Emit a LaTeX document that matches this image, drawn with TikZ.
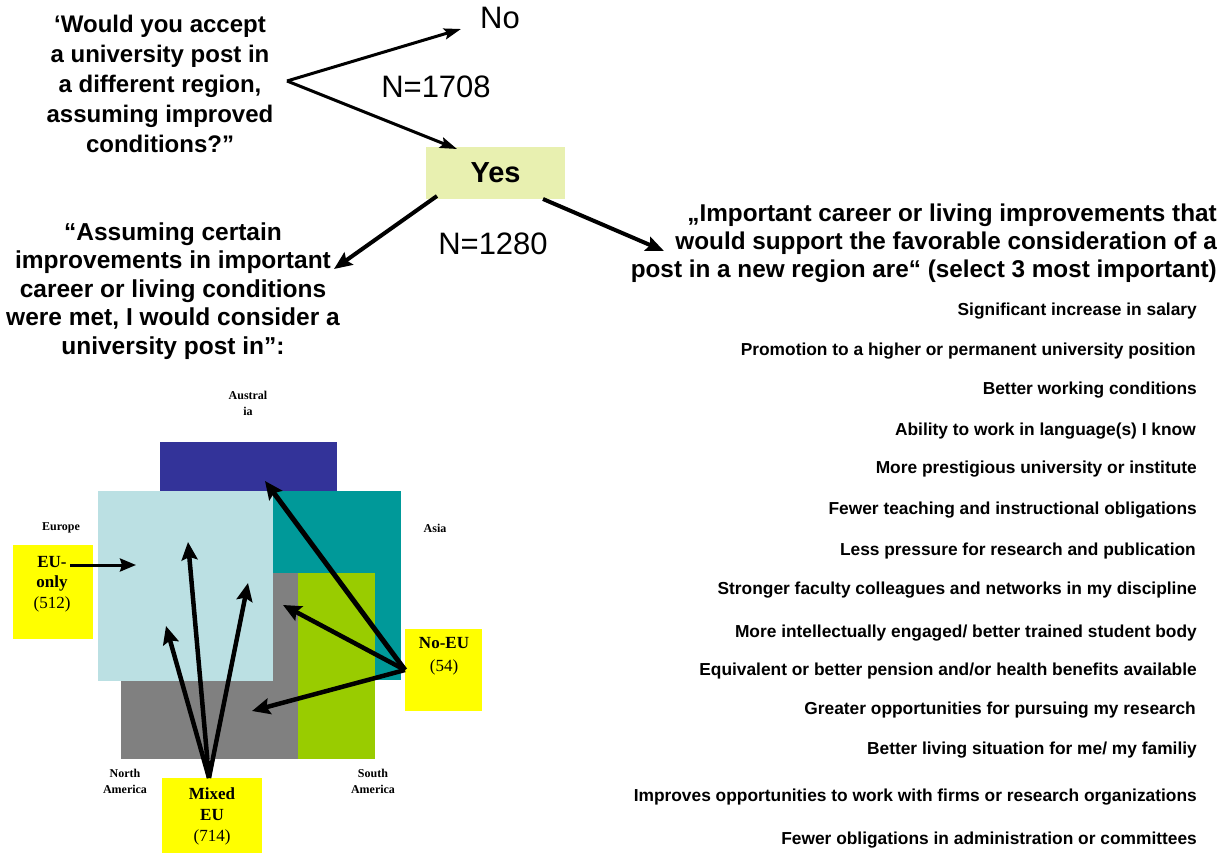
\documentclass[tikz,border=0pt]{standalone}
\usepackage{fontspec}
\setmainfont{Liberation Sans}
\newfontfamily\tnr{Liberation Serif}
\usetikzlibrary{arrows.meta}
\definecolor{yesfill}{HTML}{E8F0B0}
\definecolor{ausc}{HTML}{333399}
\definecolor{eurc}{HTML}{BBE0E3}
\definecolor{asiac}{HTML}{009999}
\definecolor{namc}{HTML}{808080}
\definecolor{samc}{HTML}{99CC00}
\definecolor{yelc}{HTML}{FFFF00}
\newcommand\fsz[2]{\fontsize{#1}{#2}\selectfont}
\tikzset{
  thinarr/.style={line width=3pt, -{Stealth[length=17pt,width=11pt,inset=3pt]}},
  midarr/.style={line width=4pt, -{Stealth[length=18pt,width=15pt,inset=3pt]}},
  vennarr/.style={line width=4.5pt, -{Stealth[length=18pt,width=16pt,inset=3pt]}},
  fatarr/.style={line width=5pt, -{Stealth[length=18pt,width=16pt,inset=3pt]}},
  question/.style={align=center, inner sep=0pt, font={\fsz{24}{30}\bfseries}},
  bignum/.style={inner sep=0pt, font={\fsz{31}{36}}},
  item/.style={anchor=east, inner sep=0pt, font={\fsz{17.35}{20}\bfseries}},
  region/.style={align=center, inner sep=0pt, font={\tnr\fsz{12}{16}\bfseries}},
  ybox/.style={fill=yelc, inner sep=0pt},
  ytext/.style={align=center, inner sep=0pt, font={\tnr\fsz{17}{20.5}}},
}
\begin{document}
\begin{tikzpicture}[x=1pt,y=-1pt]
\useasboundingbox (0,0) rectangle (1229,853);
\fill[white] (0,0) rectangle (1229,853);

% ---------- top decision ----------
\node[question] (q1) at (160,84) {‘Would you accept\\a university post in\\a different region,\\assuming improved\\conditions?”};
\coordinate (v) at (287,81);
\node[bignum] (no) at (500,18) {No};
\coordinate (noend) at (461,29);
\node[bignum] (n1708) at (436,87) {N=1708};
\node[fill=yesfill, minimum width=139pt, minimum height=52pt, inner sep=0pt, font={\fsz{29}{34}\bfseries}] (yes) at (495.5,173) {Yes};
\coordinate (yesin) at (457,149);
\draw[thinarr] (v) -- (noend);
\draw[thinarr] (v) -- (yesin);

\node[bignum] (n1280) at (493,244) {N=1280};
\coordinate (yesl) at (437,196);
\coordinate (yesr) at (543,199);
\coordinate (leftend) at (334,269);
\coordinate (rightend) at (664,251);
\draw[midarr] (yesl) -- (leftend);
\draw[midarr] (yesr) -- (rightend);

% ---------- left question ----------
\node[question, font={\fsz{24.5}{28.5}\bfseries}] (q2) at (173,291) {“Assuming certain\\improvements in important\\career or living conditions\\were met, I would consider a\\university post in”:};

% ---------- right question and list ----------
\node[question, align=right, anchor=east, font={\fsz{24.3}{28}\bfseries}] (q3) at (1217,243) {„Important career or living improvements that\\would support the favorable consideration of a\\post in a new region are“ (select 3 most important)};

\node[item] (i1) at (1197,311) {Significant increase in salary};
\node[item] (i2) at (1196,351) {Promotion to a higher or permanent university position};
\node[item] (i3) at (1197,390) {Better working conditions};
\node[item] (i4) at (1196,431) {Ability to work in language(s) I know};
\node[item] (i5) at (1197,469) {More prestigious university or institute};
\node[item] (i6) at (1197,510) {Fewer teaching and instructional obligations};
\node[item] (i7) at (1196,551) {Less pressure for research and publication};
\node[item] (i8) at (1197,590) {Stronger faculty colleagues and networks in my discipline};
\node[item] (i9) at (1197,633) {More intellectually engaged/ better trained student body};
\node[item] (i10) at (1197,671) {Equivalent or better pension and/or health benefits available};
\node[item] (i11) at (1196,710) {Greater opportunities for pursuing my research};
\node[item] (i12) at (1197,750) {Better living situation for me/ my familiy};
\node[item] (i13) at (1197,797) {Improves opportunities to work with firms or research organizations};
\node[item] (i14) at (1197,840) {Fewer obligations in administration or committees};

% ---------- regions ----------
\fill[ausc] (160,442) rectangle (337,560);
\fill[asiac] (273,491) rectangle (401,680);
\fill[namc] (121,573) rectangle (298,759);
\fill[samc] (298,573) rectangle (375,759);
\fill[eurc] (98,491) rectangle (273,681);

\node[region] (laus) at (248,403) {Austral\\ia};
\node[region] (leur) at (61,528) {Europe};
\node[region] (lasia) at (435,528) {Asia};
\node[region] (lnam) at (125,781) {North\\America};
\node[region] (lsam) at (373,781) {South\\America};

% ---------- yellow boxes ----------
\node[ybox, minimum width=80pt, minimum height=94pt] (euonly) at (53,592) {};
\node[ytext] (euonlyt) at (52,584) {\textbf{EU-}\\\textbf{only}\\(512)};
\node[ybox, minimum width=77pt, minimum height=82pt] (noeu) at (443.5,670) {};
\node[ytext, font={\tnr\fsz{17}{23}}] (noeut) at (444,656) {\textbf{No-EU}\\(54)};
\node[ybox, minimum width=100pt, minimum height=75pt] (mixed) at (212,815.5) {};
\node[ytext, font={\tnr\fsz{17}{21}}] (mixedt) at (212,816) {\textbf{Mixed}\\\textbf{EU}\\(714)};

% ---------- arrows in the regions ----------
\coordinate (euo) at (70,565);
\coordinate (eut) at (136,565);
\draw[line width=3pt, -{Stealth[length=16pt,width=13pt,inset=2pt]}] (euo) -- (eut);

\coordinate (mx) at (209,778);
\coordinate (mxa) at (188,542);
\coordinate (mxb) at (166,626);
\coordinate (mxc) at (248,583);
\draw[vennarr] (mx) -- (mxa);
\draw[vennarr] (mx) -- (mxb);
\draw[vennarr] (mx) -- (mxc);

\coordinate (ne) at (405,670);
\coordinate (nea) at (265,481);
\coordinate (neb) at (283,605);
\coordinate (nec) at (252,711);
\draw[fatarr] (ne) -- (nea);
\draw[vennarr] (ne) -- (neb);
\draw[vennarr] (ne) -- (nec);
\end{tikzpicture}
\end{document}
